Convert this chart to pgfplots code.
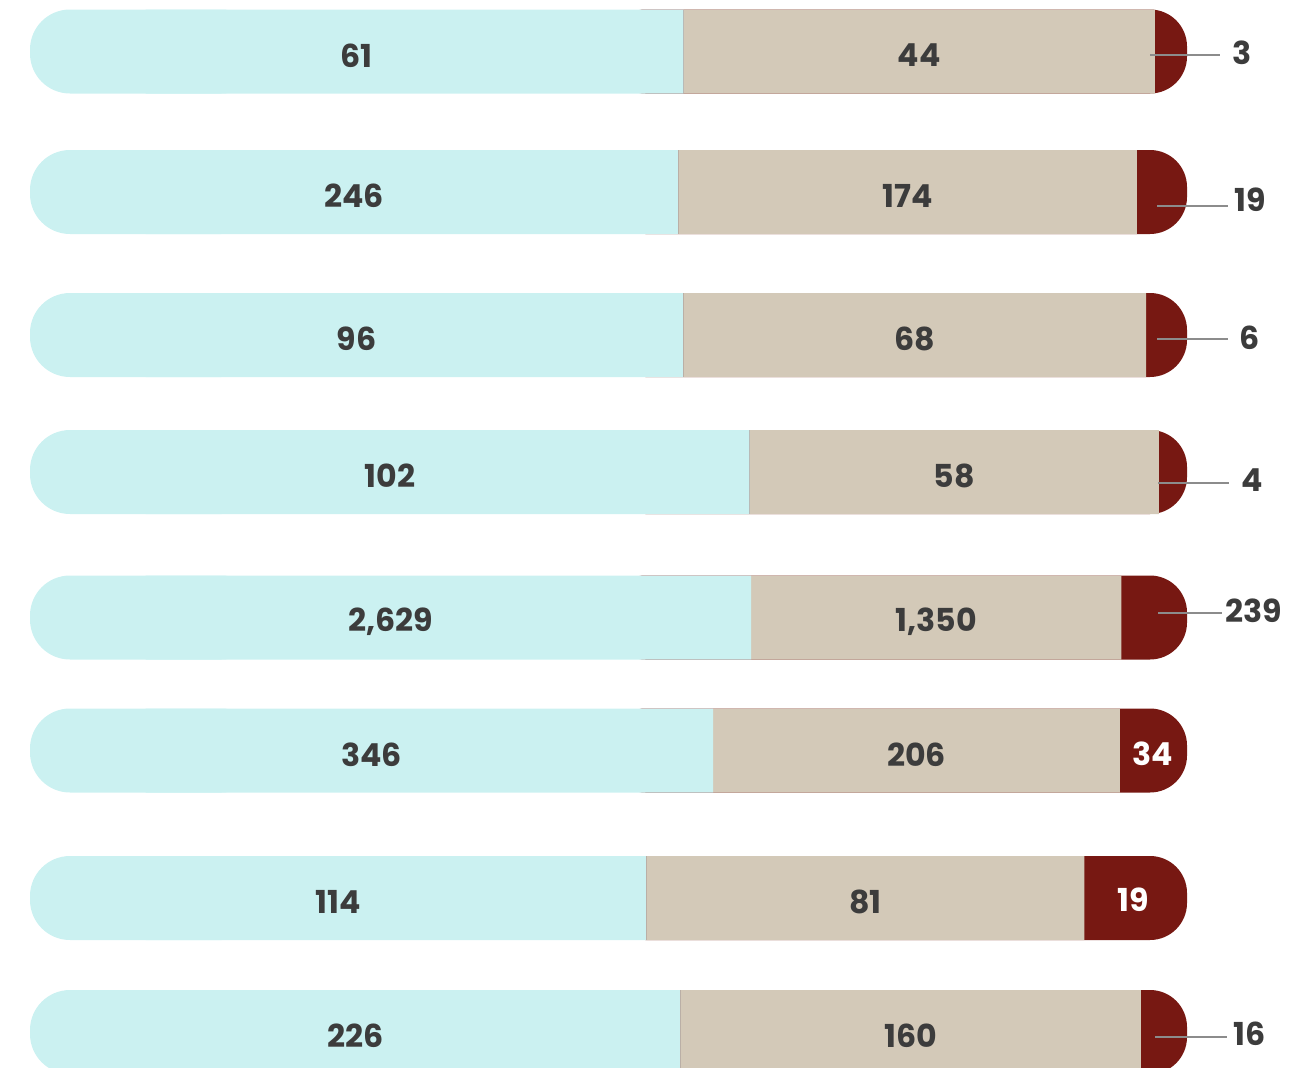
\documentclass[border=0pt]{standalone}
\usepackage{fontspec}
\setmainfont{Poppins}
\usepackage{pgfplots}
\pgfplotsset{compat=1.18}
\usepackage{pgfplotstable}

\definecolor{cyanlt}{HTML}{CBF1F1}
\definecolor{tanlt}{HTML}{D3C9B8}
\definecolor{darkred}{HTML}{771812}
\definecolor{txt}{HTML}{3C3C3C}
\definecolor{lead}{HTML}{8C8C8C}

% row centre (px from top) and the three counts
\pgfplotstableread{
y a b c
51.5 61 44 3
192 246 174 19
335 96 68 6
472 102 58 4
617.5 2629 1350 239
750.5 346 206 34
898 114 81 19
1032 226 160 16
}\counts

% small red values written beside the bar
\pgfplotstableread{
x y v
1242 53 3
1250 200 19
1250 338 6
1252 480 4
1254 611 239
1250 1034 16
}\outside

% red values written inside the bar
\pgfplotstableread{
x y v
1153 754 34
1133 900 19
}\inside

\pgfplotsset{
  frame/.style={at={(0,0)}, anchor=south west, scale only axis,
    width=131.3mm, height=106.8mm, ymin=0, ymax=1068, y dir=reverse,
    hide axis},
  pct/.style={frame, xmin=-2.5929, xmax=110.89, xbar stacked,
    bar width=8.4mm},
  lbl/.style={only marks, mark=none, nodes near coords,
    point meta=explicit,
    every node near coord/.append style={anchor=center,
      font=\bfseries\fontsize{9}{10}\selectfont, text=#1}},
}

\begin{document}
\begin{tikzpicture}
\useasboundingbox (0,0) rectangle (131.3mm,106.8mm);
% round ends
\begin{axis}[pct]
\addplot[fill=cyanlt, draw=none, rounded corners=4mm]
  table[x expr=20, y=y] {\counts};
\addplot[fill=none, draw=none] table[x expr=30, y=y] {\counts};
\addplot[fill=darkred, draw=none, rounded corners=3.7mm]
  table[x expr=50, y=y] {\counts};
\end{axis}
% square middle segments
\begin{axis}[pct]
\addplot[fill=none, draw=none] table[x expr=10, y=y] {\counts};
\addplot[fill=cyanlt, draw=none]
  table[x expr={100*\thisrow{a}/(\thisrow{a}+\thisrow{b}+\thisrow{c})-10}, y=y] {\counts};
\addplot[fill=tanlt, draw=none]
  table[x expr={100*\thisrow{b}/(\thisrow{a}+\thisrow{b}+\thisrow{c})}, y=y] {\counts};
\end{axis}
% labels and leader lines, x in px
\begin{axis}[frame, xmin=0, xmax=1313,
  /pgf/number format/1000 sep={,},
  /pgf/number format/assume math mode=true]
\addplot[lead, line width=0.15mm] coordinates {(1150,55) (1220,55)};
\addplot[lead, line width=0.15mm] coordinates {(1157,206) (1228,206)};
\addplot[lead, line width=0.15mm] coordinates {(1157,339) (1228,339)};
\addplot[lead, line width=0.15mm] coordinates {(1158,483) (1229,483)};
\addplot[lead, line width=0.15mm] coordinates {(1158,613) (1222,613)};
\addplot[lead, line width=0.15mm] coordinates {(1155,1037) (1227,1037)};
\addplot[lbl=txt] table[x expr={30+578.5*\thisrow{a}/(\thisrow{a}+\thisrow{b}+\thisrow{c})},
  y expr=\thisrow{y}+4, meta=a] {\counts};
\addplot[lbl=txt] table[x expr={30+1157*(\thisrow{a}+0.5*\thisrow{b})/(\thisrow{a}+\thisrow{b}+\thisrow{c})},
  y expr=\thisrow{y}+4, meta=b] {\counts};
\addplot[lbl=txt] table[x=x, y=y, meta=v] {\outside};
\addplot[lbl=white] table[x=x, y=y, meta=v] {\inside};
\end{axis}
\end{tikzpicture}
\end{document}
